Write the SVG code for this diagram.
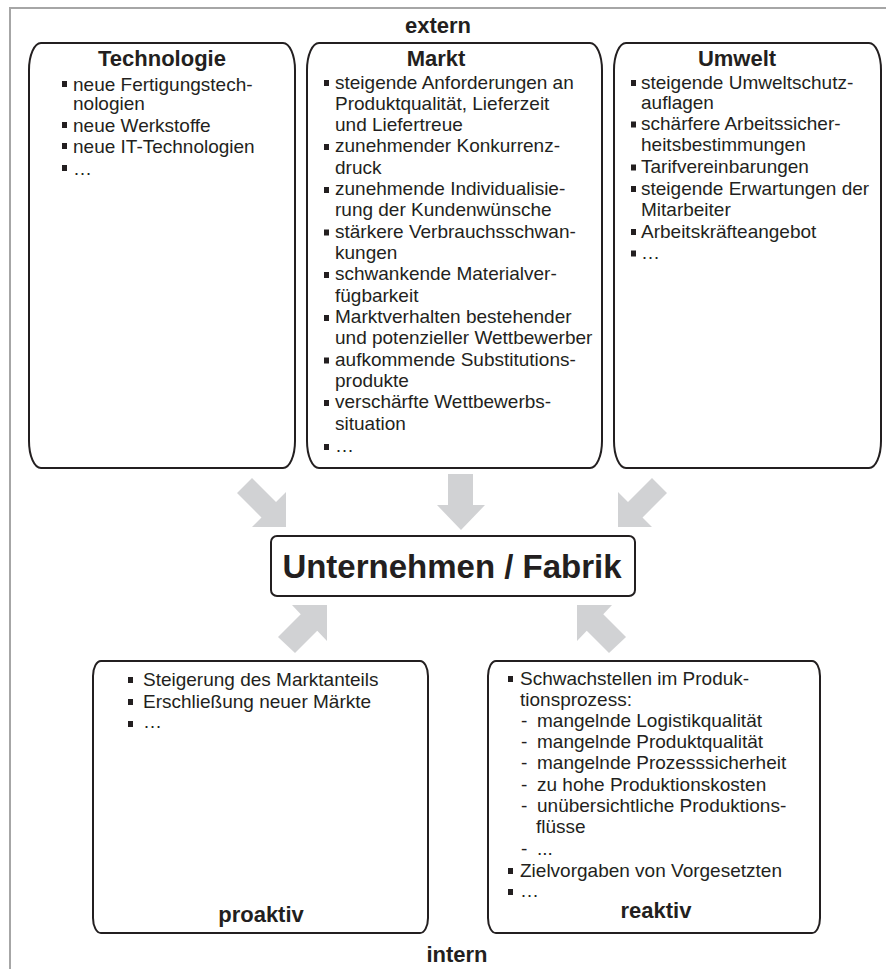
<svg xmlns="http://www.w3.org/2000/svg" width="886" height="969" viewBox="0 0 886 969">
<style>
text{font-family:"Liberation Sans",Arial,sans-serif;fill:#231f20}
.t{font-size:19px}
.h{font-size:22px;font-weight:bold;text-anchor:middle}
.big{font-size:33px;font-weight:bold;text-anchor:middle}
.box{fill:#fff;stroke:#231f20;stroke-width:2}
.b{fill:#231f20}
.arr{fill:#d1d2d4}
.frame{stroke:#a6a6a6;stroke-width:2;fill:none}
</style>
<rect width="886" height="969" fill="#fff"/>
<path class="frame" d="M10,969 V8 H886"/>
<text class="h" x="438" y="33">extern</text>
<text class="h" x="457" y="962">intern</text>

<g id="technologie">
<path class="box" d="M41,43 H283 A12,27 0 0 1 295,70 V441 A12,27 0 0 1 283,468 H41 A12,27 0 0 1 29,441 V70 A12,27 0 0 1 41,43 Z"/>
<text class="h" x="162" y="66">Technologie</text>
<rect class="b" x="62" y="81" width="5" height="6"/><text class="t" x="73" y="91">neue Fertigungstech-</text>
<text class="t" x="73" y="110">nologien</text>
<rect class="b" x="62" y="122" width="5" height="6"/><text class="t" x="73" y="132">neue Werkstoffe</text>
<rect class="b" x="62" y="143" width="5" height="6"/><text class="t" x="73" y="153">neue IT-Technologien</text>
<rect class="b" x="62" y="165" width="5" height="6"/><text class="t" x="73" y="175">…</text>
</g>

<g id="markt">
<path class="box" d="M319,43 H590 A12,27 0 0 1 602,70 V441 A12,27 0 0 1 590,468 H319 A12,27 0 0 1 307,441 V70 A12,27 0 0 1 319,43 Z"/>
<text class="h" x="436" y="66">Markt</text>
<rect class="b" x="324" y="80" width="5" height="6"/><text class="t" x="335" y="88.5">steigende Anforderungen an</text>
<text class="t" x="335" y="109.5">Produktqualität, Lieferzeit</text>
<text class="t" x="335" y="131">und Liefertreue</text>
<rect class="b" x="324" y="144" width="5" height="6"/><text class="t" x="335" y="152">zunehmender Konkurrenz-</text>
<text class="t" x="335" y="173.5">druck</text>
<rect class="b" x="324" y="187" width="5" height="6"/><text class="t" x="335" y="195">zunehmende Individualisie-</text>
<text class="t" x="335" y="216">rung der Kundenwünsche</text>
<rect class="b" x="324" y="229.5" width="5" height="6"/><text class="t" x="335" y="237.5">stärkere Verbrauchsschwan-</text>
<text class="t" x="335" y="259">kungen</text>
<rect class="b" x="324" y="272" width="5" height="6"/><text class="t" x="335" y="280">schwankende Materialver-</text>
<text class="t" x="335" y="301.5">fügbarkeit</text>
<rect class="b" x="324" y="315" width="5" height="6"/><text class="t" x="335" y="323">Marktverhalten bestehender</text>
<text class="t" x="335" y="344">und potenzieller Wettbewerber</text>
<rect class="b" x="324" y="357.5" width="5" height="6"/><text class="t" x="335" y="365.5">aufkommende Substitutions-</text>
<text class="t" x="335" y="387">produkte</text>
<rect class="b" x="324" y="400" width="5" height="6"/><text class="t" x="335" y="408">verschärfte Wettbewerbs-</text>
<text class="t" x="335" y="429.5">situation</text>
<rect class="b" x="324" y="444" width="5" height="6"/><text class="t" x="335" y="452">…</text>
</g>

<g id="umwelt">
<path class="box" d="M626,43 H869 A12,27 0 0 1 881,70 V441 A12,27 0 0 1 869,468 H626 A12,27 0 0 1 614,441 V70 A12,27 0 0 1 626,43 Z"/>
<text class="h" x="737" y="66">Umwelt</text>
<rect class="b" x="631" y="80" width="5" height="6"/><text class="t" x="641" y="88.5">steigende Umweltschutz-</text>
<text class="t" x="641" y="109">auflagen</text>
<rect class="b" x="631" y="121.5" width="5" height="6"/><text class="t" x="641" y="130">schärfere Arbeitssicher-</text>
<text class="t" x="641" y="151">heitsbestimmungen</text>
<rect class="b" x="631" y="164.5" width="5" height="6"/><text class="t" x="641" y="173">Tarifvereinbarungen</text>
<rect class="b" x="631" y="186" width="5" height="6"/><text class="t" x="641" y="194.5">steigende Erwartungen der</text>
<text class="t" x="641" y="216">Mitarbeiter</text>
<rect class="b" x="631" y="229" width="5" height="6"/><text class="t" x="641" y="237.5">Arbeitskräfteangebot</text>
<rect class="b" x="631" y="250.5" width="5" height="6"/><text class="t" x="641" y="259">…</text>
</g>

<g id="unternehmen">
<rect class="box" x="271" y="536" width="364" height="60" rx="6" ry="6"/>
<text class="big" x="452" y="578">Unternehmen / Fabrik</text>
</g>

<g id="proaktiv">
<path class="box" d="M101,661 H420 A8,15 0 0 1 428,676 V918 A8,15 0 0 1 420,933 H101 A8,15 0 0 1 93,918 V676 A8,15 0 0 1 101,661 Z"/>
<rect class="b" x="128" y="677" width="5" height="6"/><text class="t" x="143" y="686">Steigerung des Marktanteils</text>
<rect class="b" x="128" y="699" width="5" height="6"/><text class="t" x="143" y="708">Erschließung neuer Märkte</text>
<rect class="b" x="128" y="721" width="5" height="6"/><text class="t" x="143" y="728">…</text>
<text class="h" x="261" y="922">proaktiv</text>
</g>

<g id="reaktiv">
<path class="box" d="M496,661 H812 A8,15 0 0 1 820,676 V918 A8,15 0 0 1 812,933 H496 A8,15 0 0 1 488,918 V676 A8,15 0 0 1 496,661 Z"/>
<rect class="b" x="508" y="676" width="5" height="6"/><text class="t" x="520" y="685">Schwachstellen im Produk-</text>
<text class="t" x="520" y="706">tionsprozess:</text>
<text class="t" x="521" y="727">-</text><text class="t" x="537" y="727">mangelnde Logistikqualität</text>
<text class="t" x="521" y="748">-</text><text class="t" x="537" y="748">mangelnde Produktqualität</text>
<text class="t" x="521" y="769">-</text><text class="t" x="537" y="769">mangelnde Prozesssicherheit</text>
<text class="t" x="521" y="791">-</text><text class="t" x="537" y="791">zu hohe Produktionskosten</text>
<text class="t" x="521" y="812">-</text><text class="t" x="537" y="812">unübersichtliche Produktions-</text>
<text class="t" x="536" y="833">flüsse</text>
<text class="t" x="521" y="855">-</text><text class="t" x="537" y="855">...</text>
<rect class="b" x="508" y="868" width="5" height="6"/><text class="t" x="520" y="877">Zielvorgaben von Vorgesetzten</text>
<rect class="b" x="508" y="889" width="5" height="6"/><text class="t" x="520" y="897">…</text>
<text class="h" x="656" y="918">reaktiv</text>
</g>

<g id="connectors">
<polygon class="arr" points="237,493 252,478 276,502 286,492 286,527 252,527 261.5,517.5"/>
<polygon class="arr" points="448,474 473,474 473,505 485,505 461,530 437,505 448,505"/>
<polygon class="arr" points="667,493 652,478 628,502 618,492 618,527 652,527 642.5,517.5"/>
<polygon class="arr" points="278,637 300.75,614.25 292,605 327,605 327,641 317.25,630.75 295,653"/>
<polygon class="arr" points="626,637 603.25,614.25 612,605 577,605 577,641 586.75,630.75 609,653"/>
</g>
</svg>
